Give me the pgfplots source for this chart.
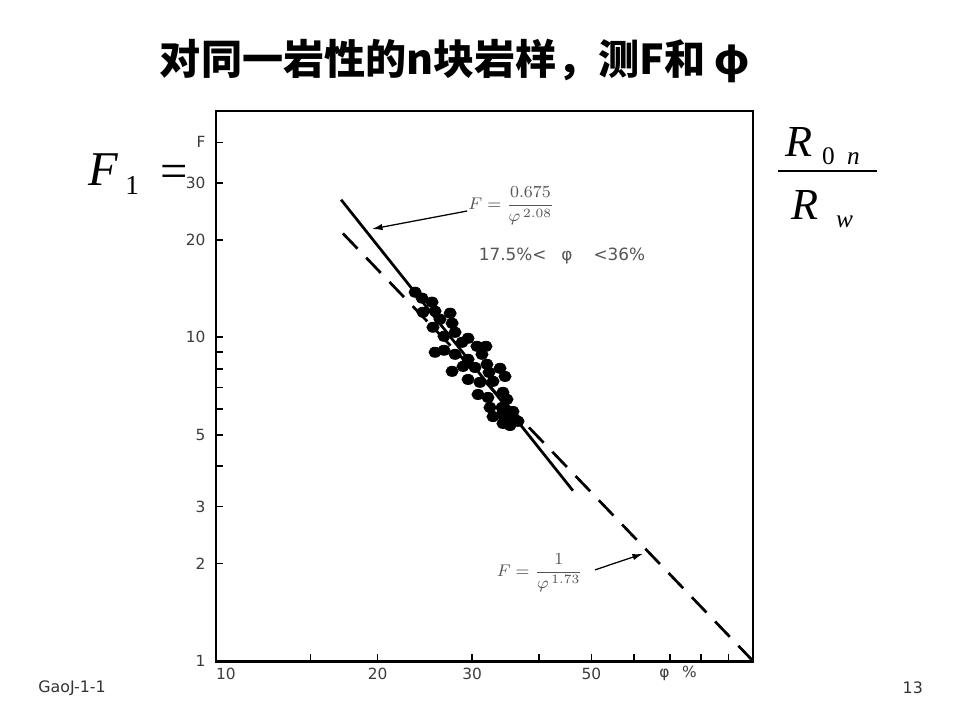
\documentclass[border=0pt]{standalone}
\usepackage{amsmath}
\usepackage{pgfplots}
\pgfplotsset{compat=1.18}
\usetikzlibrary{arrows.meta}
\usepackage{fontspec}
\setmainfont{Liberation Serif}
\newfontfamily\cjk{Noto Sans CJK SC}
\newfontfamily\dv{DejaVu Sans}
\newfontfamily\tms{Liberation Serif}
\definecolor{tickgray}{HTML}{3C3C3C}
\definecolor{notegray}{HTML}{555555}

\begin{document}
\begin{tikzpicture}
\fill[white] (0,0) rectangle (16cm,12cm);
\path[use as bounding box] (0,0) rectangle (16cm,12cm);

\begin{loglogaxis}[
  scale only axis, width=8.95cm, height=9.167cm,
  at={(3.6cm,0.983cm)}, anchor=south west,
  xmin=10, xmax=100, ymin=1, ymax=50,
  clip=false,
  axis line style={line width=1.4pt},
  tick align=inside, xtick pos=bottom, ytick pos=left,
  major tick length=3.3pt,
  tick style={black, line width=0.8pt},
  minor xtick={}, minor ytick={},
  xtick={10,15,20,30,40,50,60,70,80,90,100},
  xticklabels={\rlap{10},,20,30,,50,,,,,},
  ytick={1,2,3,4,5,6,7,8,9,10,20,30,40},
  yticklabels={1,2,3,,5,,,,,10,20,30,F},
  ticklabel style={font=\dv\fontsize{7.3}{8}\selectfont, text=tickgray},
  yticklabel style={xshift=-1.5pt},
]
% measured points
\addplot[only marks, mark=*, mark size=2.4pt, mark options={xscale=1.2, fill=black, draw=black}] coordinates {
(23.48,13.78) (24.19,13.21) (25.25,12.84) (24.29,11.95) (25.58,12.04)
(27.29,11.87) (26.13,11.37) (27.52,11.05) (25.36,10.74) (26.58,10.07)
(27.87,10.36) (29.47,9.93) (28.72,9.65) (30.62,9.38) (31.82,9.38)
(25.58,8.99) (26.58,9.12) (27.87,8.86) (29.47,8.55) (31.28,8.86)
(31.96,8.25) (33.80,8.02) (27.52,7.85) (28.84,8.13) (30.36,8.07)
(32.24,7.79) (34.53,7.57) (29.47,7.41) (31.01,7.26) (32.80,7.31)
(30.75,6.66) (32.10,6.52) (34.23,6.76) (34.82,6.43) (32.38,6.07)
(34.09,6.07) (35.74,5.90) (32.80,5.69) (34.09,5.78) (35.28,5.61)
(36.51,5.50) (34.23,5.42) (35.28,5.34)
};
% F = 0.675 / phi^2.08
\addplot[black, line width=1.3pt] coordinates {(17.1,26.6) (46.2,3.36)};
% F = 1 / phi^1.73
\addplot[black, line width=1.3pt, dash pattern=on 10pt off 5.94pt] coordinates {(100,1) (17.2,21.0)};

\draw[-{Latex[length=5pt,width=3pt]}, line width=0.6pt] (axis cs:29.35,24.55) -- (axis cs:19.52,21.60);
\node[anchor=west, inner sep=0pt, text=notegray, font=\fontsize{8.3}{9}\selectfont] at (axis cs:29.47,25.44) {$F=\dfrac{0.675}{\varphi^{\,2.08}}$};
\node[text=notegray, font=\dv\fontsize{8}{9}\selectfont] at (axis cs:44.1,17.81) {17.5\%<\hspace{7pt}φ\hspace{10pt}<36\%};
\draw[-{Latex[length=5pt,width=3pt]}, line width=0.6pt] (axis cs:50.8,1.913) -- (axis cs:62.4,2.145);
\node[text=notegray, font=\fontsize{8}{9}\selectfont] at (axis cs:40.1,1.873) {$F=\dfrac{1}{\varphi^{\,1.73}}$};
\node[anchor=north, inner sep=2.3pt, text=tickgray, font=\dv\fontsize{7.3}{8}\selectfont] at (axis cs:72.5,1) {φ\hspace{6pt}\%};
\end{loglogaxis}

\begin{scope}[shift={(0,12cm)}, x=0.0166667cm, y=-0.0166667cm]
\node[font=\cjk\bfseries\fontsize{19.5}{22}\selectfont] at (455,61) {对同一岩性的n块岩样，测F和 φ};
% F_1 = R_0n / R_w
\node[anchor=base west, inner sep=0pt, font=\tms\itshape\fontsize{23}{26}\selectfont] at (88,186) {F};
\node[anchor=base west, inner sep=0pt, font=\tms\fontsize{13}{15}\selectfont] at (125,195) {1};
\node[anchor=base west, inner sep=0pt, font=\tms\fontsize{23}{26}\selectfont] at (160,188) {=};
\node[anchor=base west, inner sep=0pt, font=\tms\itshape\fontsize{21}{24}\selectfont] at (785,157) {R};
\node[anchor=base west, inner sep=0pt, font=\tms\fontsize{12}{14}\selectfont] at (822,165) {0};
\node[anchor=base west, inner sep=0pt, font=\tms\itshape\fontsize{12}{14}\selectfont] at (847,165) {n};
\draw[line width=0.8pt] (778,171) -- (877,171);
\node[anchor=base west, inner sep=0pt, font=\tms\itshape\fontsize{21}{24}\selectfont] at (791,220) {R};
\node[anchor=base west, inner sep=0pt, font=\tms\itshape\fontsize{12}{14}\selectfont] at (836,228) {w};
% footer
\node[anchor=west, inner sep=0pt, font=\dv\fontsize{7.5}{9}\selectfont, text=black!80] at (38,688) {GaoJ-1-1};
\node[inner sep=0pt, font=\dv\fontsize{7.5}{9}\selectfont, text=black!80] at (913,688) {13};
\end{scope}
\end{tikzpicture}
\end{document}
